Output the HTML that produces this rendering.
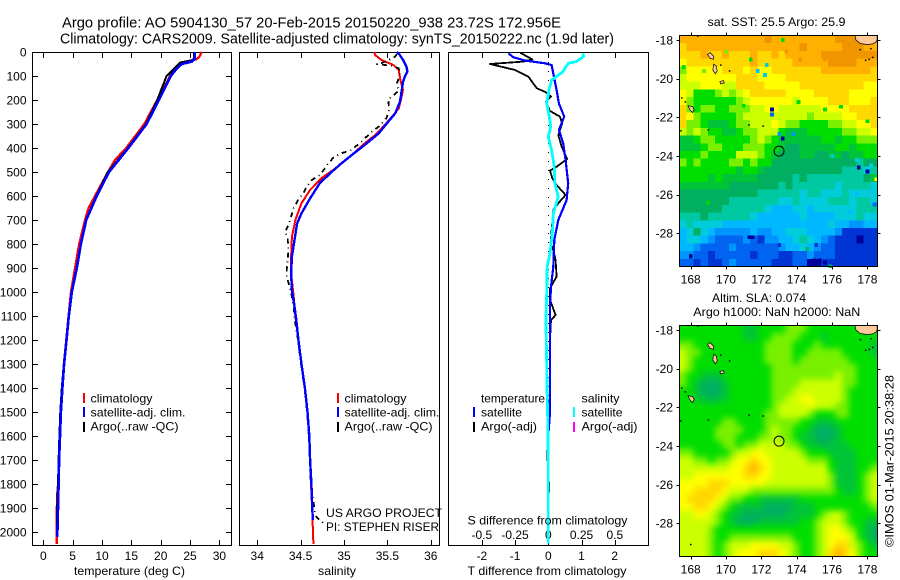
<!DOCTYPE html>
<html lang="en">
<head>
<meta charset="utf-8">
<title>Argo profile 5904130_57</title>
<style>
html,body{margin:0;padding:0;background:#fff;}
body{width:900px;height:580px;overflow:hidden;}
svg{display:block;font-family:"Liberation Sans",sans-serif;font-size:12px;fill:#000;}
.sm{font-size:12px;}
.ti{font-size:14.5px;}
</style>
</head>
<body>
<svg id="figure" width="900" height="580" viewBox="0 0 900 580" xmlns="http://www.w3.org/2000/svg">
  <defs>
    <filter id="slaBlur" filterUnits="userSpaceOnUse" x="650" y="300" width="250" height="280" color-interpolation-filters="sRGB">
      <feGaussianBlur stdDeviation="3.2"/>
    </filter>
    <clipPath id="slaClip"><rect x="679.5" y="325.5" width="198" height="231"/></clipPath>
  </defs>
  <rect x="0" y="0" width="900" height="580" fill="#fff"/>
  <text class="ti" x="62" y="27.5" textLength="499" lengthAdjust="spacingAndGlyphs">Argo profile: AO 5904130_57 20-Feb-2015 20150220_938 23.72S 172.956E</text>
  <text class="ti" x="60" y="43.3" textLength="554" lengthAdjust="spacingAndGlyphs">Climatology: CARS2009. Satellite-adjusted climatology: synTS_20150222.nc (1.9d later)</text>

  <g id="temp-panel"></g>
  <g id="sal-panel"></g>
  <g id="diff-panel"></g>
  <g id="sst-map"></g>
  <g id="sla-map"></g>

  <text x="74" y="575" textLength="111" lengthAdjust="spacingAndGlyphs">temperature (deg C)</text>
  <text x="318" y="575" textLength="38" lengthAdjust="spacingAndGlyphs">salinity</text>
  <text x="467.5" y="575" textLength="159" lengthAdjust="spacingAndGlyphs">T difference from climatology</text>
  <text x="467.5" y="524.5" textLength="160" lengthAdjust="spacingAndGlyphs">S difference from climatology</text>

  <g>
    <rect x="83" y="393" width="2" height="10" fill="#f00"/>
    <rect x="83" y="407" width="2" height="10" fill="#00f"/>
    <rect x="83" y="422" width="2" height="10" fill="#000"/>
    <text x="90.5" y="402.5" textLength="62" lengthAdjust="spacingAndGlyphs">climatology</text>
    <text x="90.5" y="416.5" textLength="95" lengthAdjust="spacingAndGlyphs">satellite-adj. clim.</text>
    <text x="90.5" y="430.5" textLength="88" lengthAdjust="spacingAndGlyphs">Argo(..raw -QC)</text>
  </g>
  <g>
    <rect x="337" y="393" width="2" height="10" fill="#f00"/>
    <rect x="337" y="407" width="2" height="10" fill="#00f"/>
    <rect x="337" y="422" width="2" height="10" fill="#000"/>
    <text x="344.5" y="402.5" textLength="62" lengthAdjust="spacingAndGlyphs">climatology</text>
    <text x="344.5" y="416.5" textLength="95" lengthAdjust="spacingAndGlyphs">satellite-adj. clim.</text>
    <text x="344.5" y="430.5" textLength="88" lengthAdjust="spacingAndGlyphs">Argo(..raw -QC)</text>
  </g>
  <text x="326" y="517" textLength="116" lengthAdjust="spacingAndGlyphs">US ARGO PROJECT</text>
  <text x="326" y="531" textLength="113" lengthAdjust="spacingAndGlyphs">PI: STEPHEN RISER</text>
  <g>
    <text x="481" y="402.5" textLength="64" lengthAdjust="spacingAndGlyphs">temperature</text>
    <text x="581.5" y="402.5" textLength="38" lengthAdjust="spacingAndGlyphs">salinity</text>
    <rect x="473" y="407" width="2" height="10" fill="#00f"/>
    <rect x="473" y="422" width="2" height="10" fill="#000"/>
    <rect x="573" y="407" width="2" height="10" fill="#0ff"/>
    <rect x="573" y="422" width="2" height="10" fill="#f0f"/>
    <text x="481" y="416.5" textLength="41" lengthAdjust="spacingAndGlyphs">satellite</text>
    <text x="481" y="430.5" textLength="56" lengthAdjust="spacingAndGlyphs">Argo(-adj)</text>
    <text x="581.5" y="416.5" textLength="41" lengthAdjust="spacingAndGlyphs">satellite</text>
    <text x="581.5" y="430.5" textLength="56" lengthAdjust="spacingAndGlyphs">Argo(-adj)</text>
  </g>

  <text x="707.5" y="26" textLength="138" lengthAdjust="spacingAndGlyphs">sat. SST: 25.5 Argo: 25.9</text>
  <text x="712" y="302" textLength="94" lengthAdjust="spacingAndGlyphs">Altim. SLA: 0.074</text>
  <text x="693.3" y="316" textLength="167" lengthAdjust="spacingAndGlyphs">Argo h1000: NaN h2000: NaN</text>
  <text transform="translate(893.5,547) rotate(-90)" textLength="172" lengthAdjust="spacingAndGlyphs">©IMOS 01-Mar-2015 20:38:28</text>
</svg>

<script>
// ---------- temperature profile ----------
const tempClimDepth = [0,20,30,45,60,100,200,300,400,450,500,550,600,650,700,800,900,1000,1100,1200,1300,1400,1500,1600,1700,1800,1850,1900,2000,2050];
const tempClimValues = [27,26.6,26.1,24.1,23,21.6,19.4,17.2,14.1,12.2,11,9.9,8.8,7.7,7.1,6.1,5.4,4.7,4.3,3.9,3.5,3.2,3,2.8,2.65,2.5,2.35,2.3,2.3,2.28];
const tempSatDepth = [0,30,40,50,70,100,200,300,400,500,600,700,800,900,1000,1100,1200,1300,1400,1500,1600,1700,1800,1900,2000,2020];
const tempSatValues = [25.8,25.8,25.3,23.6,22.7,21.7,19.7,17.6,14.5,11.2,9.1,7.3,6.4,5.7,4.85,4.35,3.95,3.55,3.25,3,2.85,2.7,2.6,2.5,2.4,2.4];
const tempArgoDepth = [0,33,44,100,200,300,400,500,600,700,800,900,1000,1100,1200,1300,1400,1500,1600,1700,1800,1900,2000];
const tempArgoValues = [25.7,25.6,23.3,21,19.4,17.5,14.4,11,9,7.25,6.35,5.65,4.85,4.35,3.95,3.5,3.15,2.9,2.75,2.6,2.5,2.35,2.35];
const tempTickLabels = [0,5,10,15,20,25,30];
const depthTickLabels = [0,100,200,300,400,500,600,700,800,900,1000,1100,1200,1300,1400,1500,1600,1700,1800,1900,2000];

// ---------- salinity profile ----------
const salClimDepth = [0,12,33,54,75,117,158,193,235,262,304,346,380,429,485,526,575,630,700,770,853,922,1019,1103,1200,1300,1400,1492,1600,1686,1800,1922,2050];
const salClimValues = [35.35,35.357,35.43,35.57,35.63,35.65,35.68,35.66,35.63,35.57,35.47,35.36,35.24,35.09,34.9,34.74,34.61,34.51,34.44,34.4,34.39,34.39,34.42,34.44,34.475,34.51,34.55,34.58,34.6,34.61,34.62,34.635,34.647];
const salSatDepth = [0,6,33,61,82,103,124,172,207,256,290,339,387,429,464,499,547,610,672,714,783,853,922,992,1061,1117,1200,1300,1400,1500,1600,1700,1800,1900,1950];
const salSatValues = [35.61,35.63,35.68,35.72,35.73,35.7,35.68,35.66,35.645,35.59,35.51,35.4,35.24,35.09,34.97,34.86,34.72,34.61,34.51,34.46,34.43,34.4,34.39,34.4,34.43,34.45,34.475,34.51,34.55,34.58,34.6,34.61,34.625,34.635,34.64];
const salArgoDepth = [8,19,31,47,51,54,58,68,89,110,131,162,186,197,242,276,311,332,360,408,422,439,464,485,512,533,561,589,617,651,686,721,749,772,825,874,908,936,985,1019,1060,1110,1200,1300,1400,1500,1600,1700,1750,1800,1933,1950,1967];
const salArgoValues = [35.61,35.59,35.53,35.43,35.38,35.47,35.55,35.63,35.645,35.63,35.61,35.63,35.55,35.51,35.52,35.49,35.4,35.32,35.24,35.09,34.97,34.88,34.82,34.78,34.72,34.63,34.57,34.53,34.47,34.42,34.39,34.36,34.32,34.35,34.36,34.35,34.34,34.34,34.38,34.4,34.42,34.43,34.47,34.505,34.545,34.575,34.595,34.605,34.61,34.62,34.67,34.72,34.78];
const salTickValues = [34,34.5,35,35.5,36];

// ---------- difference profiles ----------
const diffArgoTDepth = [3,31,40,50,75,103,151,168,186,207,246,269,297,346,394,446,478,494,526,554,596,630,658,742,797,825,867,936,985,1033,1096,1117,1200,1300,1400,1500,1600,1700,1800,1900,2000];
const diffArgoTValues = [-0.85,-0.48,-0.75,-1.76,-1,-0.6,-0.35,-0.07,0.08,-0.07,0.05,0.35,0.42,0.3,0.4,0.57,0.25,0.05,0.12,0.25,0.52,0.3,0.15,0.1,0.07,0.15,0.22,0.25,0.05,0.05,0.22,0.08,0.05,0.05,0.05,0.03,-0.02,-0.02,0.02,0.01,0];
const diffSatTDepth = [6,22,36,47,54,89,158,214,269,325,380,450,547,617,700,783,894,978,1061,1117,1200,1300,1400,1500,1600,2000];
const diffSatTValues = [-1.2,-1.05,-0.7,-0.1,0.1,0.15,0.25,0.32,0.48,0.32,0.45,0.52,0.6,0.55,0.3,0.18,0.15,0.08,0.05,0.05,0.05,0.05,0.05,0.05,0,0];
const diffSatSDepth = [6,19,40,47,82,117,158,214,262,311,353,408,478,547,603,672,756,839,894,1006,1117,1300,1400,1500,1700,2000,2047];
const diffSatSValues = [0.26,0.265,0.21,0.15,0.11,0.025,0.005,-0.012,0.005,0.018,0,0.025,0.045,0.05,0.075,0.038,0.03,0.013,-0.008,-0.012,-0.018,-0.012,-0.01,-0.005,0,0,0];
const diffTTickValues = [-2,-1,0,1,2];
const diffSTickValues = [-0.5,-0.25,0,0.25,0.5];
const diffTTopTicks = [-2,0,2];

// ---------- maps: colour level per 0.4 degree cell, row by row from the north ----------
const levelColors = ["#00009c","#0034d4","#0064f0","#0094ff","#00b8ff","#00ccdc","#00c8a0","#00b060","#00c438","#00de00","#78f000","#ccff00","#ffff00","#ffd800","#ffb000","#f09400"];
const sstLevels = [
[14,14,14,14,14,14,14,14,14,14,14,14,15,14,14,14,14,14,14,14,14,14,15,15,15,15,15,15],
[13,14,14,14,14,14,14,14,14,14,14,14,14,14,14,14,14,15,14,14,14,14,14,15,15,15,14,14],
[13,13,13,14,13,13,14,13,13,13,14,13,13,14,13,14,14,14,14,14,15,15,15,15,15,15,15,15],
[12,13,13,13,13,13,13,13,13,13,14,13,13,13,13,13,14,14,14,14,14,15,15,15,15,14,14,14],
[10,12,12,12,12,12,13,13,13,12,13,12,12,13,13,13,13,13,13,13,14,14,14,14,14,14,14,13],
[11,12,12,12,12,12,12,12,13,13,13,12,12,12,12,13,13,13,13,13,13,13,13,13,13,13,13,13],
[11,11,11,12,12,12,11,11,13,13,13,13,12,12,12,12,12,13,13,13,13,13,13,13,13,13,12,12],
[12,11,9,9,9,10,11,10,11,12,13,13,13,13,13,12,12,12,12,13,13,13,13,13,12,12,12,12],
[12,10,9,9,9,9,9,9,10,11,12,12,12,12,12,12,11,12,12,12,12,13,13,13,12,12,12,13],
[13,10,9,10,10,9,9,10,10,10,11,11,12,12,11,11,11,11,11,11,12,12,12,12,13,13,13,13],
[13,12,10,9,9,9,9,9,10,11,11,11,11,11,11,11,11,11,10,11,11,11,11,12,12,13,13,13],
[13,10,10,9,8,8,8,9,10,10,11,11,11,12,11,10,10,9,9,9,9,10,10,11,11,12,12,13],
[11,10,11,10,9,9,8,8,9,10,10,11,11,11,9,8,8,8,9,9,9,9,9,10,10,11,11,12],
[8,8,9,10,10,9,9,9,9,9,10,11,10,9,8,8,8,8,8,8,9,9,8,9,9,10,10,10],
[8,8,8,9,10,10,9,9,9,10,10,10,9,9,8,7,7,8,8,8,8,8,9,9,8,9,9,9],
[9,9,9,10,9,9,9,9,11,11,11,10,9,8,7,7,7,8,8,7,7,8,8,7,8,8,9,9],
[10,9,10,9,9,9,9,10,10,9,10,9,9,7,7,7,7,7,7,7,7,7,7,7,7,6,7,7],
[9,9,9,9,9,9,9,9,8,9,9,8,7,7,7,7,7,7,7,7,7,7,7,6,6,6,5,6],
[9,9,9,9,8,9,8,8,8,8,8,7,7,7,7,7,6,7,6,6,6,6,6,6,6,6,7,8],
[8,8,8,8,8,8,8,7,7,7,7,7,7,7,6,7,6,6,6,6,6,6,5,6,6,6,6,5],
[7,7,7,7,7,7,7,7,7,7,7,6,6,6,6,6,6,5,6,6,5,5,5,6,5,5,5,5],
[7,7,7,7,7,7,7,6,6,6,6,6,6,6,5,5,6,5,5,5,5,6,6,6,5,6,6,5],
[7,7,7,7,7,7,6,6,6,6,6,6,5,4,4,4,5,5,4,5,5,5,5,5,5,6,6,6],
[6,6,6,7,6,6,6,6,6,6,5,4,4,4,4,4,4,5,4,4,4,4,5,5,5,6,5,5],
[5,6,5,5,5,5,4,4,4,4,4,4,4,4,4,4,4,4,4,4,4,5,4,4,3,3,4,4],
[4,5,7,5,4,3,3,3,3,3,4,3,3,4,4,5,5,5,4,4,4,4,3,1,1,1,1,1],
[4,5,5,4,3,2,2,2,2,3,2,1,3,3,4,4,5,6,5,4,3,2,1,1,1,0,1,1],
[4,4,3,2,2,2,2,3,2,2,2,2,2,2,3,4,4,5,4,3,2,2,1,1,1,1,1,1],
[3,3,2,2,1,2,2,2,2,2,1,2,2,2,1,1,2,2,3,2,2,2,1,1,1,1,1,1],
[2,2,1,2,1,1,2,3,2,2,2,2,2,1,1,1,2,2,0,0,1,1,1,1,1,1,1,1]
];
const sstSpeckLons = [172.6,172.6,173,173.2,173.8,177.5,178,178.4,171.5,171.3,168,172.3,171.8,172.2,173.2,175,175.3,175.6,175.9,178.5,171.4,170,168.75,167.6,173.4,175.6,174.2,171,174.1,175.6,178,176.5,176,177.4,178.2,173,175.1,174.6,169,177,177.4];
const sstSpeckLats = [-21.6,-21.85,-22.85,-23.1,-22.85,-24.6,-24.8,-26.5,-28.2,-28.2,-29.2,-19.3,-19.6,-19.8,-18,-29.4,-29.4,-29.5,-29.7,-25.2,-19,-18.6,-19.6,-19.4,-18.6,-19,-19,-21.4,-21.2,-21.6,-22.2,-21.45,-24,-24.2,-24.5,-28.6,-28.6,-28.8,-26.4,-26.9,-26];
const sstSpeckLevels = [0,2,3,0,3,0,0,2,0,0,0,5,4,5,9,0,0,0,7,12,9,10,10,9,15,15,15,9,9,9,9,9,5,5,5,1,1,7,9,4,4];
const slaLevels = [
[9,9,9,9,9,9,9,9,9,8,8,9,9,9,9,10,10,10,9,9,9,9,9,9,9,9,9,9],
[9,9,9,9,9,9,9,9,9,8,8,9,9,10,10,10,10,9,9,9,8,9,9,9,9,9,9,9],
[10,10,9,9,9,9,9,9,9,9,9,9,10,10,10,10,9,9,9,10,9,9,9,9,9,9,9,8],
[11,10,10,9,9,9,9,9,9,9,9,9,10,10,10,10,9,9,10,10,10,10,10,9,9,9,9,8],
[11,10,9,9,9,9,9,9,9,9,9,9,10,10,10,10,9,10,10,10,10,10,10,10,9,9,9,9],
[11,10,9,9,9,9,9,9,9,9,9,9,9,10,10,10,10,10,10,10,10,10,10,10,10,9,9,9],
[10,9,9,8,8,8,9,9,9,9,9,9,9,10,10,10,10,10,10,10,10,10,11,10,10,9,9,9],
[10,9,8,7,7,7,8,9,9,9,9,9,9,10,10,10,10,11,11,11,11,11,11,10,10,9,9,9],
[9,9,8,7,7,7,8,9,9,9,9,9,9,10,10,10,11,11,11,11,11,11,11,10,9,9,9,9],
[9,9,8,8,7,8,8,9,9,9,9,9,9,10,10,11,11,12,12,11,11,11,11,10,9,9,9,9],
[9,9,9,9,9,9,9,9,9,9,9,9,9,10,11,11,11,11,12,11,11,11,10,10,9,9,9,9],
[9,9,9,9,9,9,9,9,9,9,9,9,10,10,11,11,11,11,10,9,9,9,10,10,9,9,9,9],
[9,9,9,9,9,9,10,10,9,9,9,9,10,10,10,10,10,9,9,8,8,8,9,9,9,9,9,9],
[9,9,9,9,9,10,10,10,10,9,9,9,10,11,10,10,9,9,8,7,7,7,8,9,9,9,9,9],
[9,9,9,9,9,10,10,10,9,9,9,10,10,11,10,10,9,8,8,7,7,7,8,9,9,9,9,9],
[9,9,9,9,9,9,10,10,9,10,10,11,11,11,11,10,10,9,8,8,7,8,8,8,9,9,9,9],
[10,10,9,9,9,9,9,10,11,11,12,12,11,11,11,11,11,10,9,9,9,8,8,8,8,9,9,9],
[11,11,10,10,9,10,10,11,12,12,13,12,12,11,11,11,11,11,10,10,10,9,8,8,8,9,9,9],
[11,11,11,11,11,11,11,12,12,13,14,13,12,11,11,11,11,11,11,11,11,9,8,8,8,9,9,10],
[11,11,12,12,12,12,12,12,12,13,13,12,12,11,11,11,11,11,11,11,11,10,8,8,8,9,10,11],
[12,12,12,12,13,13,13,12,12,12,12,12,11,11,11,11,11,11,11,11,11,10,8,8,8,9,10,11],
[12,12,13,13,13,13,12,11,11,11,10,10,10,10,10,10,10,10,10,10,10,10,9,8,8,9,10,11],
[12,13,13,13,13,12,11,10,10,9,9,8,8,8,8,8,8,9,9,9,9,9,9,9,9,9,10,11],
[12,12,13,13,12,11,10,9,8,8,8,8,7,7,7,7,8,8,8,9,9,9,9,9,9,9,9,10],
[11,11,12,12,11,10,9,8,8,7,7,7,7,7,7,8,8,8,8,9,10,11,11,10,9,9,9,9],
[11,11,11,11,11,10,9,8,7,7,7,8,8,8,8,8,8,9,9,10,11,11,11,10,9,9,8,8],
[11,11,11,11,10,9,9,9,9,9,9,9,9,9,9,9,9,9,9,10,11,12,12,11,10,9,8,7],
[11,11,11,11,10,9,9,10,10,10,10,10,10,10,10,10,9,9,9,10,11,12,12,12,11,9,8,7],
[11,11,11,11,10,9,10,11,11,11,12,12,12,12,11,11,10,9,9,10,11,12,13,13,11,10,9,8],
[11,11,11,11,10,9,10,11,12,12,12,13,13,13,12,11,10,9,9,10,11,13,14,13,12,10,9,9]
];
const lonTickValues = [168,170,172,174,176,178];
const latTickValues = [-18,-20,-22,-24,-26,-28];
const profileLon = [173];
const profileLat = [-23.75];
const landLons = [
[177.3,177.35,177.6,178,178.3,178.5,178.55,178.55,177.3],
[168.95,169.1,169.3,169.3,169.1],
[169.3,169.45,169.5,169.4,169.25],
[169.65,169.85,169.9,169.7],
[167.85,168.1,168.2,168.1,167.95]
];
const landLats = [
[-17.76,-18,-18.18,-18.24,-18.2,-18.1,-18,-17.76,-17.76],
[-18.75,-18.65,-18.85,-19,-18.95],
[-19.25,-19.35,-19.6,-19.75,-19.55],
[-20.15,-20.1,-20.22,-20.27],
[-21.4,-21.45,-21.6,-21.75,-21.6]
];
const reefLons = [168.4,169.7,170.2,167.5,167.7,167.45,169,171.3,172.1,177.6,178.2,178.3,177.9,178.1,168];
const reefLats = [-17.8,-19.3,-19.6,-21,-21.2,-22.7,-22.65,-22.4,-22.45,-18.5,-18.45,-18.9,-19.05,-19,-29.1];

// ---------- axis functions ----------
const yDepth = d => 52 + 0.24 * d;
const xTemp = v => 43.3 + 5.87 * v;
const xSal = v => 344 + 86.8 * (v - 35);
const xDiffT = v => 548.3 + 33.2 * v;
const xDiffS = v => 548.3 + 133 * v;
const lonX = v => 690.7 + 17.67 * (v - 168);
const latOffset = (v, y18) => y18 + 19.33 * (-18 - v);

const SVGNS = 'http://www.w3.org/2000/svg';
function mk(parent, tag, attrs, name) {
  const el = document.createElementNS(SVGNS, tag);
  for (const k in attrs) el.setAttribute(k, attrs[k]);
  
  
  parent.appendChild(el);
  return el;
}
function line(parent, x1, y1, x2, y2, name) {
  return mk(parent, 'line', {x1, y1, x2, y2, stroke: '#000', 'stroke-width': 1, 'shape-rendering': 'crispEdges'}, name);
}
function label(parent, x, y, txt, anchor, name) {
  const t = mk(parent, 'text', {x, y, 'text-anchor': anchor}, name);
  t.textContent = txt;
  return t;
}
function series(parent, xs, ds, xf, color, width, name, dash) {
  const pts = xs.map((v, i) => xf(v).toFixed(1) + ',' + yDepth(ds[i]).toFixed(1)).join(' ');
  const attrs = {points: pts, fill: 'none', stroke: color, 'stroke-width': width, 'stroke-linejoin': 'round', 'stroke-linecap': 'butt', 'shape-rendering': 'crispEdges'};
  if (dash) attrs['stroke-dasharray'] = dash;
  return mk(parent, 'polyline', attrs, name);
}
function frame(parent, x, y, w, h) {
  return mk(parent, 'rect', {x, y, width: w, height: h, fill: 'none', stroke: '#000', 'stroke-width': 1, 'shape-rendering': 'crispEdges'}, 'axes-frame');
}

// ---------- temperature panel ----------
const tp = document.getElementById('temp-panel');
frame(tp, 32.5, 52.5, 199, 493);
depthTickLabels.forEach(d => {
  const y = Math.round(yDepth(d)) + 0.5;
  line(tp, 33, y, 38, y, 'depth-tick');
  line(tp, 226, y, 231, y, 'depth-tick');
  label(tp, 26.5, yDepth(d) + 4.3, String(d), 'end', 'depth-tick-label');
});
tempTickLabels.forEach(v => {
  const x = Math.round(xTemp(v)) + 0.5;
  line(tp, x, 53, x, 58, 'temperature-tick');
  line(tp, x, 540, x, 545, 'temperature-tick');
  label(tp, xTemp(v), 560, String(v), 'middle', 'temperature-tick-label');
});
series(tp, tempClimValues, tempClimDepth, xTemp, '#f00', 2.2, 'temperature-climatology-line');
series(tp, tempArgoValues, tempArgoDepth, xTemp, '#000', 2, 'temperature-argo-line');
series(tp, tempSatValues, tempSatDepth, xTemp, '#00f', 2.6, 'temperature-satellite-line');

// ---------- salinity panel ----------
const sp = document.getElementById('sal-panel');
frame(sp, 239.5, 52.5, 200, 493);
salTickValues.forEach(v => {
  const x = Math.round(xSal(v)) + 0.5;
  line(sp, x, 53, x, 58, 'salinity-tick');
  line(sp, x, 540, x, 545, 'salinity-tick');
  label(sp, xSal(v), 560, String(v), 'middle', 'salinity-tick-label');
});
series(sp, salClimValues, salClimDepth, xSal, '#f00', 2, 'salinity-climatology-line');
series(sp, salArgoValues, salArgoDepth, xSal, '#000', 1.8, 'salinity-argo-line', '5 4 1 4');
series(sp, salSatValues, salSatDepth, xSal, '#00f', 2.4, 'salinity-satellite-line');

// ---------- difference panel ----------
const dp = document.getElementById('diff-panel');
frame(dp, 448.5, 52.5, 200, 493);
diffTTickValues.forEach(v => {
  const x = Math.round(xDiffT(v)) + 0.5;
  line(dp, x, 540, x, 545, 't-difference-tick');
  label(dp, xDiffT(v), 560, v < 0 ? '-' + Math.abs(v) : String(v), 'middle', 't-difference-tick-label');
});
diffTTopTicks.forEach(v => {
  const x = Math.round(xDiffT(v)) + 0.5;
  line(dp, x, 53, x, 58, 't-difference-top-tick');
});
diffSTickValues.forEach(v => {
  label(dp, xDiffS(v), 539, v < 0 ? '-' + Math.abs(v) : String(v), 'middle', 's-difference-tick-label');
});
mk(dp, 'line', {x1: 548.5, y1: 53, x2: 548.5, y2: 540, stroke: '#000', 'stroke-width': 1, 'stroke-dasharray': '1 8', 'shape-rendering': 'crispEdges'}, 'zero-difference-line');
series(dp, diffArgoTValues, diffArgoTDepth, xDiffT, '#000', 1.8, 't-difference-argo-line');
series(dp, diffSatTValues, diffSatTDepth, xDiffT, '#00f', 2.2, 't-difference-satellite-line');
series(dp, diffSatSValues, diffSatSDepth, xDiffS, '#0ff', 2.8, 's-difference-satellite-line');

// ---------- maps ----------
function drawMap(group, levels, top, cellName, bleed) {
  const left = 679.5, w = 198, h = 231;
  const rows = levels.length, cols = levels[0].length;
  const cw = w / cols, ch = h / rows;
  levels.forEach((row, r) => row.forEach((lvl, c) => {
    const ex0 = c === 0 ? bleed : 0, ey0 = r === 0 ? bleed : 0;
    const ex1 = c === cols - 1 ? bleed : 0, ey1 = r === rows - 1 ? bleed : 0;
    mk(group, 'rect', {
      x: (left + c * cw - ex0).toFixed(2), y: (top + r * ch - ey0).toFixed(2),
      width: (cw + 0.4 + ex0 + ex1).toFixed(2), height: (ch + 0.4 + ey0 + ey1).toFixed(2),
      fill: levelColors[lvl], 'shape-rendering': 'crispEdges'
    }, cellName);
  }));
}
function drawOverlay(group, top, y18) {
  const left = 679.5, w = 198, h = 231;
  const latY = v => latOffset(v, y18);
  landLons.forEach((lons, i) => {
    const pts = lons.map((v, j) => lonX(v).toFixed(1) + ',' + latY(landLats[i][j]).toFixed(1)).join(' ');
    mk(group, 'polygon', {points: pts, fill: '#ffc898', stroke: '#000', 'stroke-width': 0.7}, 'land-polygon');
  });
  reefLons.forEach((v, i) => {
    mk(group, 'rect', {x: lonX(v) - 0.75, y: latY(reefLats[i]) - 0.75, width: 1.5, height: 1.5, fill: '#000'}, 'reef-speck');
  });
  mk(group, 'circle', {cx: lonX(profileLon[0]), cy: latY(profileLat[0]), r: 5, fill: 'none', stroke: '#000', 'stroke-width': 1}, 'profile-location-marker');
  frame(group, left, top, w, h);
  lonTickValues.forEach(v => {
    const x = Math.round(lonX(v)) + 0.5;
    line(group, x, top - 3, x, top, 'longitude-tick');
    line(group, x, top + h, x, top + h + 3, 'longitude-tick');
    label(group, lonX(v), top + h + 17, String(v), 'middle', 'longitude-tick-label');
  });
  latTickValues.forEach(v => {
    const y = Math.round(latY(v)) + 0.5;
    line(group, left - 3, y, left, y, 'latitude-tick');
    line(group, left + w, y, left + w + 3, y, 'latitude-tick');
    label(group, 673, latY(v) + 4.3, String(v), 'end', 'latitude-tick-label');
  });
}
const sstGroup = document.getElementById('sst-map');
drawMap(sstGroup, sstLevels, 35.5, 'sst-cell', 0);
sstSpeckLons.forEach((v, i) => {
  mk(sstGroup, 'rect', {
    x: (lonX(v) - 1.75).toFixed(2), y: (latOffset(sstSpeckLats[i], 40) - 1.9).toFixed(2),
    width: 3.6, height: 3.9, fill: levelColors[sstSpeckLevels[i]], 'shape-rendering': 'crispEdges'
  }, 'sst-speck-cell');
});
drawOverlay(sstGroup, 35.5, 40);
const slaGroup = document.getElementById('sla-map');
const slaClipGroup = mk(slaGroup, 'g', {'clip-path': 'url(#slaClip)'}, 'sla-field-clip');
const slaCells = mk(slaClipGroup, 'g', {filter: 'url(#slaBlur)'}, 'sla-field');
drawMap(slaCells, slaLevels, 325.5, 'sla-cell', 12);
drawOverlay(slaGroup, 325.5, 330);
</script>
</body>
</html>
